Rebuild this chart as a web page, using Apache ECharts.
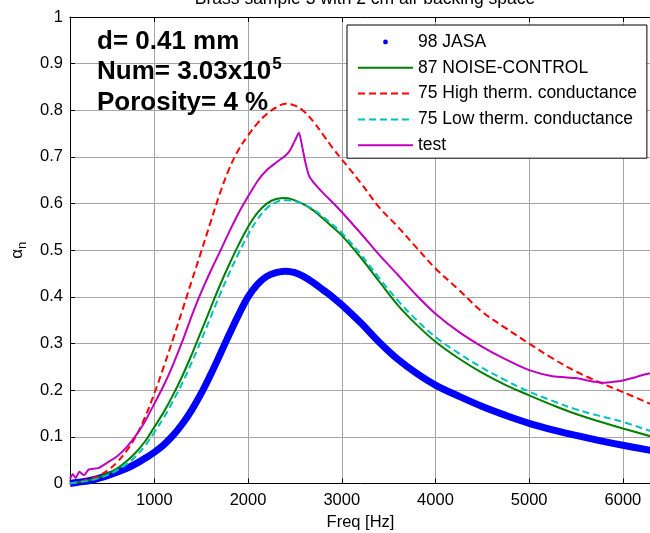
<!DOCTYPE html>
<html>
<head>
<meta charset="utf-8">
<script src="https://cdn.jsdelivr.net/npm/echarts@6/dist/echarts.min.js"></script>
<style>html,body{margin:0;padding:0;background:#fff}#c{width:650px;height:533px}</style>
</head>
<body>
<div id="c"></div>
<script>
// ---- data ----
var titleText = 'Brass sample 3 with 2 cm air backing space';
var xTicks = [1000, 2000, 3000, 4000, 5000, 6000];

// shared frequency grid for the model curves (Hz)
var freq = [100,200,300,400,500,600,700,800,900,1000,1100,1200,1300,1400,1500,1600,1700,1800,1900,2000,2100,2200,2300,2400,2500,2600,2700,2800,2900,3000,3200,3400,3600,3800,4000,4250,4500,4750,5000,5250,5500,5750,6000,6300];

var jasaVal = [0,0.003,0.006,0.011,0.017,0.024,0.032,0.042,0.054,0.067,0.083,0.103,0.128,0.158,0.193,0.233,0.276,0.32,0.362,0.40,0.427,0.444,0.452,0.455,0.452,0.443,0.43,0.415,0.40,0.383,0.345,0.303,0.266,0.236,0.211,0.187,0.165,0.146,0.129,0.115,0.103,0.092,0.082,0.071];

var ncVal = [0,0.003,0.007,0.013,0.021,0.032,0.047,0.066,0.09,0.121,0.153,0.19,0.231,0.277,0.326,0.376,0.425,0.47,0.512,0.55,0.58,0.60,0.61,0.612,0.607,0.598,0.585,0.568,0.55,0.532,0.485,0.433,0.382,0.34,0.304,0.268,0.237,0.211,0.189,0.168,0.149,0.133,0.118,0.101];

var highVal = [0,0.004,0.009,0.016,0.028,0.045,0.069,0.10,0.142,0.193,0.25,0.31,0.372,0.435,0.497,0.56,0.622,0.675,0.716,0.746,0.772,0.792,0.806,0.814,0.81,0.797,0.775,0.748,0.72,0.695,0.645,0.592,0.55,0.505,0.461,0.415,0.368,0.333,0.30,0.268,0.24,0.217,0.196,0.17];

var lowVal = [0,0.003,0.006,0.011,0.018,0.028,0.041,0.058,0.081,0.11,0.141,0.177,0.216,0.26,0.307,0.356,0.405,0.451,0.494,0.533,0.566,0.59,0.603,0.607,0.605,0.598,0.587,0.572,0.555,0.537,0.492,0.44,0.392,0.35,0.314,0.279,0.248,0.221,0.197,0.177,0.159,0.145,0.132,0.112];

// measured "test" curve (own frequency points; noisy start, sharp peak)
var testFreq = [100,130,160,200,250,300,400,500,600,700,800,900,1000,1100,1200,1300,1400,1500,1600,1700,1800,1900,2000,2100,2200,2300,2400,2450,2500,2543,2580,2610,2650,2700,2800,2900,3000,3200,3400,3600,3800,4000,4250,4500,4750,5000,5250,5500,5600,5700,5800,5900,6000,6100,6200,6300];
var testVal = [0.01,0.02,0.012,0.025,0.018,0.03,0.033,0.045,0.058,0.077,0.102,0.133,0.171,0.21,0.255,0.305,0.36,0.41,0.455,0.497,0.54,0.58,0.615,0.648,0.672,0.688,0.703,0.715,0.735,0.752,0.72,0.69,0.66,0.645,0.623,0.603,0.582,0.537,0.49,0.447,0.403,0.364,0.325,0.293,0.266,0.243,0.23,0.226,0.222,0.218,0.216,0.218,0.221,0.226,0.232,0.237];

var seriesNames = ['98 JASA', '87 NOISE-CONTROL', '75 High therm. conductance', '75 Low therm. conductance', 'test'];

function pairs(f, v) { return f.map(function (x, i) { return [x, v[i]]; }); }

var FONT = 'Liberation Sans, Arial, Helvetica, sans-serif';
var chart = echarts.init(document.getElementById('c'), null, {renderer: 'canvas'});

var option = {
  animation: false,
  backgroundColor: '#fff',
  title: {
    text: titleText, left: 360, top: -15, textAlign: 'center',
    textStyle: {fontFamily: FONT, fontSize: 17.5, fontWeight: 'normal', color: '#000'}
  },
  grid: {left: 70, top: 17, right: -1, bottom: 49.5, containLabel: false, outerBoundsMode: 'none'},
  legend: {
    orient: 'vertical', left: 347, top: 25,
    padding: [7, 10, 3, 10], itemGap: 5.8, itemWidth: 55, itemHeight: 6,
    backgroundColor: '#fff', borderColor: '#000', borderWidth: 1,
    selectedMode: false,
    textStyle: {fontFamily: FONT, fontSize: 17.5, color: '#000', lineHeight: 20},
    data: [
      {name: seriesNames[0], lineStyle: {opacity: 0}, itemStyle: {color: '#0000ff'}},
      {name: seriesNames[1], itemStyle: {opacity: 0}},
      {name: seriesNames[2], itemStyle: {opacity: 0}},
      {name: seriesNames[3], itemStyle: {opacity: 0}},
      {name: seriesNames[4], itemStyle: {opacity: 0}}
    ]
  },
  xAxis: [{
    type: 'value', min: 100, max: 6300, position: 'bottom',
    name: 'Freq [Hz]', nameLocation: 'middle', nameGap: 30,
    nameTextStyle: {fontFamily: FONT, fontSize: 16.5, color: '#000'},
    axisLine: {show: true, onZero: false, lineStyle: {color: '#000', width: 1}},
    axisTick: {show: true, inside: true, length: 5, customValues: xTicks, lineStyle: {color: '#000'}},
    axisLabel: {customValues: xTicks, fontFamily: FONT, fontSize: 16.5, color: '#000', margin: 8,
      formatter: function (v) { return String(v); }},
    splitLine: {show: true, lineStyle: {color: '#a6a6a6', width: 1}}
  }, {
    type: 'value', min: 100, max: 6300, position: 'top',
    axisLine: {show: true, onZero: false, lineStyle: {color: '#000', width: 1}},
    axisTick: {show: true, inside: true, length: 5, customValues: xTicks, lineStyle: {color: '#000'}},
    axisLabel: {show: false},
    splitLine: {show: false}
  }],
  yAxis: {
    type: 'value', min: 0, max: 1, interval: 0.1,
    name: '{a|α}{n|n}', nameLocation: 'middle', nameRotate: 90, nameGap: 40,
    nameTextStyle: {
      fontFamily: FONT, color: '#000',
      rich: {
        a: {fontFamily: FONT, fontSize: 17, color: '#000'},
        n: {fontFamily: FONT, fontSize: 13, color: '#000', padding: [10, 0, 0, 0]}
      }
    },
    axisLine: {show: true, lineStyle: {color: '#000', width: 1}},
    axisTick: {show: true, inside: true, length: 5, lineStyle: {color: '#000'}},
    axisLabel: {fontFamily: FONT, fontSize: 16.5, color: '#000', margin: 7},
    splitLine: {show: true, lineStyle: {color: '#a6a6a6', width: 1}}
  },
  graphic: [{
    type: 'text', left: 97, top: 29, z: 100,
    style: {text: 'd= 0.41 mm', font: 'bold 26px ' + FONT, fill: '#000'}
  }, {
    type: 'text', left: 97, top: 56, z: 100,
    style: {
      text: '{b|Num= 3.03x10}{s|5}',
      rich: {
        b: {font: 'bold 26px ' + FONT, fill: '#000'},
        s: {font: 'bold 17px ' + FONT, fill: '#000', padding: [0, 0, 14, 1]}
      }
    }
  }, {
    type: 'text', left: 97, top: 90, z: 100,
    style: {text: 'Porosity= 4 %', font: 'bold 26px ' + FONT, fill: '#000'}
  }],
  series: [{
    name: seriesNames[0], type: 'line', data: pairs(freq, jasaVal),
    smooth: 0.4, symbol: 'circle', symbolSize: 5, showSymbol: false,
    itemStyle: {color: '#0000ff'},
    lineStyle: {color: '#0000ff', width: 7}, z: 2
  }, {
    name: seriesNames[1], type: 'line', data: pairs(freq, ncVal),
    smooth: 0.4, symbol: 'none', itemStyle: {color: '#008000'},
    lineStyle: {color: '#008000', width: 2}, z: 3
  }, {
    name: seriesNames[2], type: 'line', data: pairs(freq, highVal),
    smooth: 0.4, symbol: 'none', itemStyle: {color: '#ff0000'},
    lineStyle: {color: '#ff0000', width: 2, type: [7, 4]}, z: 4
  }, {
    name: seriesNames[3], type: 'line', data: pairs(freq, lowVal),
    smooth: 0.4, symbol: 'none', itemStyle: {color: '#00bfbf'},
    lineStyle: {color: '#00bfbf', width: 2, type: [7, 4]}, z: 5
  }, {
    name: seriesNames[4], type: 'line', data: pairs(testFreq, testVal),
    smooth: 0.2, symbol: 'none', itemStyle: {color: '#bf00bf'},
    lineStyle: {color: '#bf00bf', width: 2}, z: 6
  }]
};
chart.setOption(option);
</script>
</body>
</html>
